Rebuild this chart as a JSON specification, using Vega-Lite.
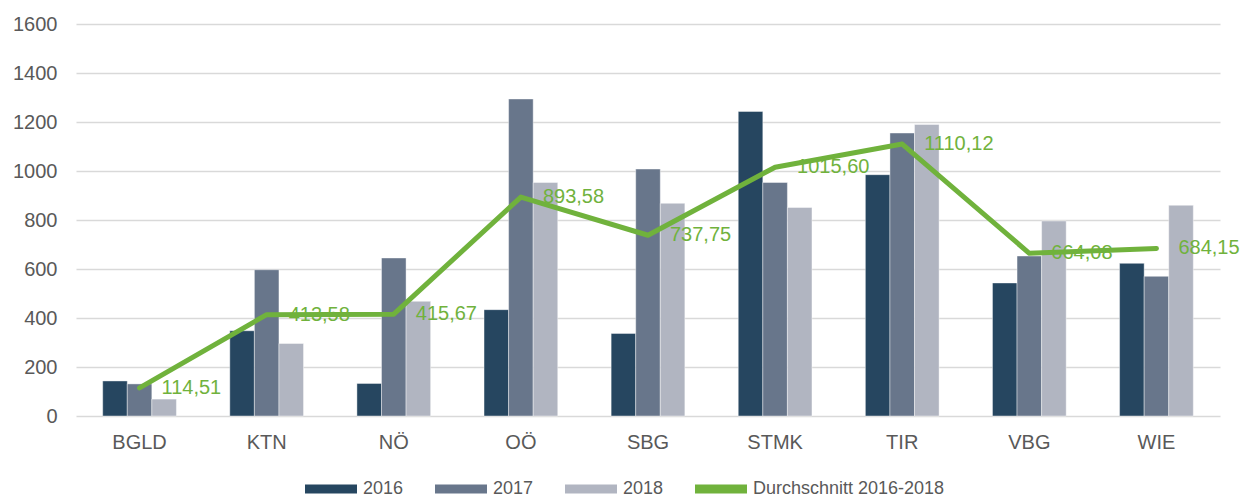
{
  "$schema": "https://vega.github.io/schema/vega-lite/v6.json",
  "width": 1144,
  "height": 392,
  "autosize": {"type": "none"},
  "padding": {"left": 76, "top": 24, "right": 24, "bottom": 79},
  "background": "white",
  "datasets": {
    "jahre": [
      {"region": "BGLD", "jahr": "2016", "wert": 143},
      {"region": "BGLD", "jahr": "2017", "wert": 131},
      {"region": "BGLD", "jahr": "2018", "wert": 69},
      {"region": "KTN", "jahr": "2016", "wert": 348},
      {"region": "KTN", "jahr": "2017", "wert": 597},
      {"region": "KTN", "jahr": "2018", "wert": 296},
      {"region": "NÖ", "jahr": "2016", "wert": 133},
      {"region": "NÖ", "jahr": "2017", "wert": 645},
      {"region": "NÖ", "jahr": "2018", "wert": 468},
      {"region": "OÖ", "jahr": "2016", "wert": 434},
      {"region": "OÖ", "jahr": "2017", "wert": 1294},
      {"region": "OÖ", "jahr": "2018", "wert": 953},
      {"region": "SBG", "jahr": "2016", "wert": 337},
      {"region": "SBG", "jahr": "2017", "wert": 1008},
      {"region": "SBG", "jahr": "2018", "wert": 868},
      {"region": "STMK", "jahr": "2016", "wert": 1243},
      {"region": "STMK", "jahr": "2017", "wert": 953},
      {"region": "STMK", "jahr": "2018", "wert": 851},
      {"region": "TIR", "jahr": "2016", "wert": 985},
      {"region": "TIR", "jahr": "2017", "wert": 1155},
      {"region": "TIR", "jahr": "2018", "wert": 1190},
      {"region": "VBG", "jahr": "2016", "wert": 543},
      {"region": "VBG", "jahr": "2017", "wert": 653},
      {"region": "VBG", "jahr": "2018", "wert": 796},
      {"region": "WIE", "jahr": "2016", "wert": 623},
      {"region": "WIE", "jahr": "2017", "wert": 570},
      {"region": "WIE", "jahr": "2018", "wert": 860}
    ],
    "schnitt": [
      {"region": "BGLD", "mittel": 114.51},
      {"region": "KTN", "mittel": 413.58},
      {"region": "NÖ", "mittel": 415.67},
      {"region": "OÖ", "mittel": 893.58},
      {"region": "SBG", "mittel": 737.75},
      {"region": "STMK", "mittel": 1015.60},
      {"region": "TIR", "mittel": 1110.12},
      {"region": "VBG", "mittel": 664.08},
      {"region": "WIE", "mittel": 684.15}
    ]
  },
  "encoding": {
    "x": {
      "field": "region",
      "type": "nominal",
      "sort": null,
      "scale": {"paddingInner": 0.42, "paddingOuter": 0.21},
      "axis": {
        "title": null,
        "domain": false,
        "ticks": false,
        "labelAngle": 0,
        "labelPadding": 16,
        "labelFontSize": 20,
        "labelColor": "#595959",
        "grid": false
      }
    }
  },
  "layer": [
    {
      "data": {"name": "jahre"},
      "mark": {"type": "bar", "stroke": "#ffffff", "strokeWidth": 0.6, "strokeOpacity": 0.7},
      "encoding": {
        "xOffset": {"field": "jahr", "type": "nominal", "scale": {"paddingInner": 0, "paddingOuter": 0}},
        "y": {
          "field": "wert",
          "type": "quantitative",
          "scale": {"domain": [0, 1600], "nice": false},
          "axis": {
            "title": null,
            "values": [0, 200, 400, 600, 800, 1000, 1200, 1400, 1600],
            "domain": false,
            "ticks": false,
            "labelPadding": 19,
            "labelFontSize": 20,
            "labelColor": "#595959",
            "gridColor": "#D9D9D9",
            "gridWidth": 1.5,
            "format": "d"
          }
        },
        "color": {
          "field": "jahr",
          "type": "nominal",
          "scale": {
            "domain": ["2016", "2017", "2018", "Durchschnitt 2016-2018"],
            "range": ["#264660", "#68768B", "#B1B5C1", "#70B23C"]
          },
          "legend": {
            "title": null,
            "orient": "none",
            "legendX": 245,
            "legendY": 455,
            "direction": "horizontal",
            "symbolType": "M-2.6,-0.45H2.6V0.45H-2.6Z",
            "symbolSize": 400,
            "symbolStrokeWidth": 0,
            "labelFontSize": 18,
            "labelColor": "#595959",
            "labelOffset": 22,
            "labelLimit": 0,
            "columnPadding": 31
          }
        }
      }
    },
    {
      "data": {"name": "schnitt"},
      "mark": {"type": "line", "strokeWidth": 5, "strokeCap": "round", "strokeJoin": "round"},
      "encoding": {
        "y": {"field": "mittel", "type": "quantitative"},
        "color": {"datum": "Durchschnitt 2016-2018"}
      }
    },
    {
      "data": {"name": "schnitt"},
      "mark": {"type": "text", "align": "left", "baseline": "middle", "dx": 22, "fontSize": 20, "color": "#70B23C"},
      "encoding": {
        "y": {"field": "mittel", "type": "quantitative"},
        "text": {"field": "mittel", "type": "quantitative", "format": ".2f"}
      }
    }
  ],
  "config": {
    "font": "Liberation Sans",
    "view": {"stroke": null},
    "locale": {
      "number": {"decimal": ",", "thousands": ".", "grouping": [3], "currency": ["", " €"]}
    }
  }
}
